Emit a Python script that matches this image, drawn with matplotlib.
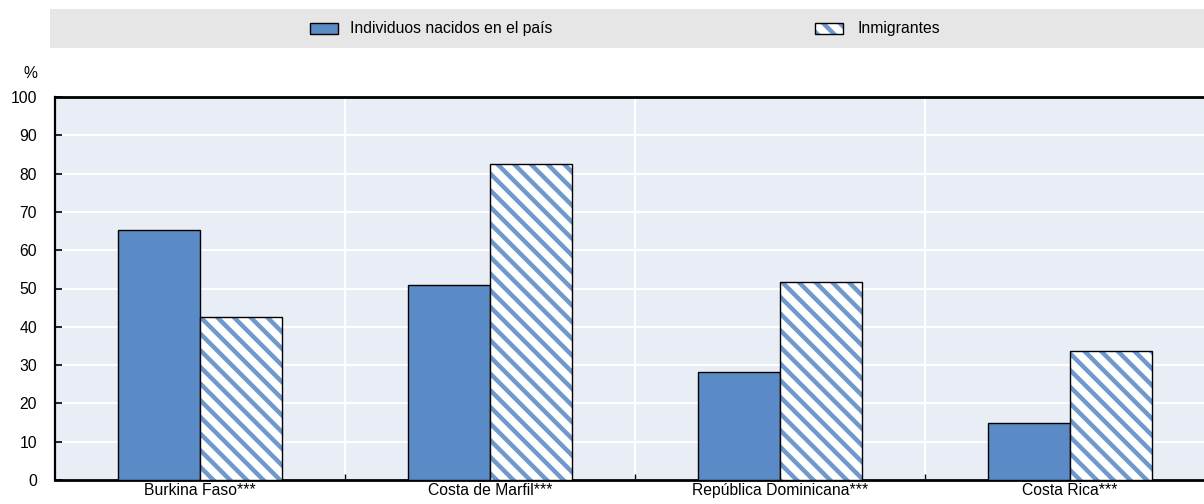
import matplotlib
matplotlib.use("Agg")
import matplotlib.pyplot as plt
from matplotlib.patches import Rectangle
import numpy as np

categories = ["Burkina Faso***", "Costa de Marfil***", "República Dominicana***", "Costa Rica***"]
native = [65.2, 51.0, 28.1, 14.9]
immigrants = [42.6, 82.4, 51.8, 33.7]
series_labels = ["Individuos nacidos en el país", "Inmigrantes"]
yticks = list(range(0, 101, 10))

plt.rcParams["font.family"] = ["Liberation Sans", "DejaVu Sans"]
plt.rcParams["hatch.linewidth"] = 3.2

BLUE = "#5B8BC6"
HBLUE = "#6F98CC"
BG = "#E9EDF6"
FS = 11.3
HATCH = "\\\\"

fig = plt.figure(figsize=(12.04, 5.04), dpi=100)
ax = fig.add_axes([55/1204, 1 - 480/504, 1160/1204, (480 - 97)/504])
ax.set_facecolor(BG)

x = np.arange(len(categories))
w = 0.284
ax.bar(x - w/2, native, w, color=BLUE, edgecolor="black", linewidth=1.0, zorder=3)
ax.bar(x + w/2, immigrants, w, color="white", edgecolor=HBLUE, hatch=HATCH, linewidth=0, zorder=3)
ax.bar(x + w/2, immigrants, w, color="none", edgecolor="black", linewidth=1.0, zorder=4)

ax.set_xlim(-0.5, len(categories) - 0.5)
ax.set_ylim(0, 100)
ax.set_yticks(yticks)
ax.set_yticklabels([str(t) for t in yticks], fontsize=FS)
ax.set_xticks(x)
ax.set_xticklabels(categories, fontsize=FS)
ax.tick_params(axis="x", which="major", length=0, pad=2)
ax.set_xticks(x[:-1] + 0.5, minor=True)
ax.tick_params(axis="x", which="minor", direction="in", length=4, width=1, color="black")
ax.tick_params(axis="y", direction="in", length=5, width=1.2, color="black", pad=13)

ax.grid(axis="y", color="white", linewidth=1.5, zorder=0)
ax.grid(axis="x", which="minor", color="white", linewidth=1.5, zorder=0)
ax.set_axisbelow(True)
for s in ["top", "bottom"]:
    ax.spines[s].set_linewidth(2.0)
    ax.spines[s].set_color("black")
ax.spines["left"].set_linewidth(1.6)
ax.spines["right"].set_visible(False)

fig.text(30/1204, 1 - 74/504, "%", fontsize=FS, ha="center", va="center")

# legend band
fig.patches.append(Rectangle((50/1204, 1 - 48/504), 1 - 50/1204, 39/504,
                             transform=fig.transFigure, facecolor="#E6E6E6",
                             edgecolor="none", zorder=0))
ly = 1 - 28.5/504
ph = 10/504
fig.patches.append(Rectangle((310/1204, ly - ph/2), 28/1204, ph, transform=fig.transFigure,
                             facecolor=BLUE, edgecolor="black", linewidth=1.0, zorder=2))
fig.text(350/1204, ly, series_labels[0], fontsize=FS, va="center", ha="left")
fig.patches.append(Rectangle((815/1204, ly - ph/2), 28/1204, ph, transform=fig.transFigure,
                             facecolor="white", edgecolor=HBLUE, hatch=HATCH, linewidth=0, zorder=2))
fig.patches.append(Rectangle((815/1204, ly - ph/2), 28/1204, ph, transform=fig.transFigure,
                             facecolor="none", edgecolor="black", linewidth=1.0, zorder=3))
fig.text(858/1204, ly, series_labels[1], fontsize=FS, va="center", ha="left")

fig.savefig("out.png", dpi=100)
